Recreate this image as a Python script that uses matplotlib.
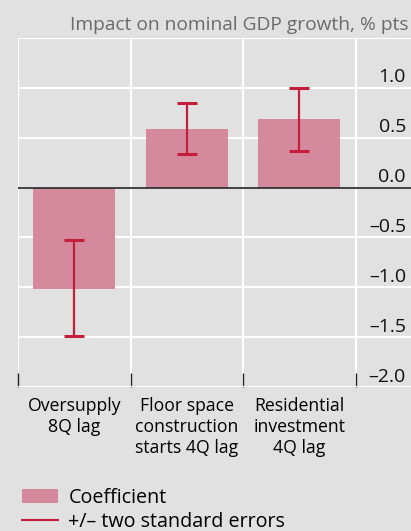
import numpy as np
import matplotlib.pyplot as plt
from matplotlib.patches import Patch
from matplotlib.lines import Line2D

# data
categories = ["Oversupply\n8Q lag", "Floor space\nconstruction\nstarts 4Q lag", "Residential\ninvestment\n4Q lag"]
coefficients = [-1.02, 0.59, 0.69]
err_low = [-1.49, 0.34, 0.37]
err_high = [-0.53, 0.85, 1.00]
ytick_vals = [-2.0, -1.5, -1.0, -0.5, 0.0, 0.5, 1.0]
ytick_labels = ["–2.0", "–1.5", "–1.0", "–0.5", "0.0", "0.5", "1.0"]

bg = "#e1e1e1"
bar_col = "#d4899c"
err_col = "#c41e3a"

plt.rcParams['font.family'] = ['Open Sans', 'DejaVu Sans']

W, H = 411, 531
fig = plt.figure(figsize=(W / 100, H / 100), dpi=100, facecolor=bg)
ax = fig.add_axes([18 / W, 144 / H, (W - 18) / W, 349 / H])
ax.set_facecolor(bg)

x = np.arange(len(categories))
coef = np.array(coefficients)
ax.bar(x, coef, width=0.73, color=bar_col, zorder=2)
ax.errorbar(x, coef, yerr=[coef - np.array(err_low), np.array(err_high) - coef],
            fmt='none', ecolor=err_col, elinewidth=1.6, capsize=7.5, capthick=2.2, zorder=3)
ax.axhline(0, color="#333333", lw=1.3, zorder=4)

ax.set_xlim(-0.5, -0.5 + (W - 18) / 112.5)
ax.set_ylim(-2.0, 1.5)

for s in ax.spines.values():
    s.set_visible(False)

# horizontal grid
ax.set_yticks(np.arange(-2.0, 1.51, 0.5))
ax.tick_params(axis='y', length=0, labelleft=False, labelright=False)
ax.grid(axis='y', color='white', lw=1.5, zorder=0)

# vertical boundaries as minor ticks
ax.set_xticks(x)
ax.set_xticklabels(categories, fontsize=12.7, linespacing=1.22)
ax.set_xticks(np.arange(-0.5, len(categories)), minor=True)
ax.tick_params(axis='x', which='major', length=0, pad=7)
ax.tick_params(axis='x', which='minor', direction='in', length=10, width=1, color='#222222')
ax.grid(axis='x', which='minor', color='white', lw=1.5, zorder=0)
ax.grid(axis='x', which='major', visible=False)
ax.set_axisbelow(True)

# y labels sit just above their gridlines at the right
for v, lab in zip(ytick_vals, ytick_labels):
    ax.text(0.987, v + 0.055, lab, transform=ax.get_yaxis_transform(), ha='right',
            va='baseline', fontsize=14, color='#111111')

fig.text(408 / W, 1 - 25 / H, "Impact on nominal GDP growth, % pts", ha='right', va='center',
         fontsize=13.8, color='#6a6a6a')

handles = [Patch(facecolor=bar_col, edgecolor='none'), Line2D([], [], color=err_col, lw=1.5)]
fig.legend(handles, ["Coefficient", "+/– two standard errors"], loc='upper left',
           bbox_to_anchor=(22 / W, 1 - 488 / H), frameon=False, fontsize=14.2,
           handlelength=1.8, handleheight=0.75, handletextpad=0.55, labelspacing=0.22,
           borderpad=0, borderaxespad=0)

fig.savefig("out.png", dpi=100, facecolor=bg)
